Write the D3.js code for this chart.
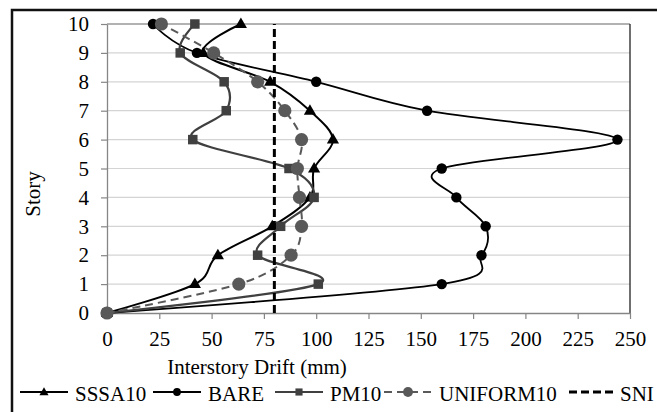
<!DOCTYPE html>
<html>
<head>
<meta charset="utf-8">
<script src="https://cdn.jsdelivr.net/npm/d3@7"></script>
</head>
<body style="margin:0">
<svg id="chart" width="657" height="412"></svg>
<script>
// ---- data ----
const stories   = [0, 1, 2, 3, 4, 5, 6, 7, 8, 9, 10];
const sssa10    = [0, 42, 53, 79, 97, 99, 108, 97, 78, 46, 64];
const bare      = [0, 160, 179, 181, 167, 160, 244, 153, 100, 43, 22];
const pm10      = [0, 101, 72, 83, 99, 87, 41, 57, 56, 35, 42];
const uniform10 = [0, 63, 88, 93, 92, 91, 93, 85, 72, 51, 26];
const sniStories = [0, 10];
const sniDrift   = [80, 80];
const xTicks = [0, 25, 50, 75, 100, 125, 150, 175, 200, 225, 250];
const yTicks = [0, 1, 2, 3, 4, 5, 6, 7, 8, 9, 10];
const seriesNames = ["SSSA10", "BARE", "PM10", "UNIFORM10", "SNI"];
const xTitle = "Interstory Drift (mm)";
const yTitle = "Story";

// ---- layout ----
const FONT = "Liberation Serif";
const FS = 21;
const svg = d3.select("#chart");
const x = d3.scaleLinear().domain([0, 250]).range([107, 630]);
const y = d3.scaleLinear().domain([0, 10]).range([313, 24]);
const curve = d3.curveCardinal.tension(0);

// background + outer chart border
svg.append("rect").attr("x", 0).attr("y", 0).attr("width", 657).attr("height", 412).attr("fill", "#fff");
svg.append("rect").attr("x", 12).attr("y", 10).attr("width", 720).attr("height", 480)
  .attr("fill", "none").attr("stroke", "#111").attr("stroke-width", 2.5);

// gridlines
svg.append("g").selectAll("line").data(yTicks.filter(d => d > 0 && d < 10)).join("line")
  .attr("x1", x(0)).attr("x2", x(250)).attr("y1", d => y(d)).attr("y2", d => y(d))
  .attr("stroke", "#d4d4d4").attr("stroke-width", 1.2);

// plot border top/right
svg.append("line").attr("x1", x(0)).attr("x2", x(250)).attr("y1", y(10)).attr("y2", y(10))
  .attr("stroke", "#666").attr("stroke-width", 1.2);
svg.append("line").attr("x1", x(250)).attr("x2", x(250)).attr("y1", y(10)).attr("y2", y(0))
  .attr("stroke", "#222").attr("stroke-width", 1.3);

// axes
const xAxis = svg.append("g").attr("transform", `translate(0,${y(0)})`)
  .call(d3.axisBottom(x).tickValues(xTicks).tickFormat(d3.format("d")).tickSize(6).tickSizeOuter(0).tickPadding(12));
const yAxis = svg.append("g").attr("transform", `translate(${x(0)},0)`)
  .call(d3.axisLeft(y).tickValues(yTicks).tickFormat(d3.format("d")).tickSize(6).tickSizeOuter(0).tickPadding(12));
[xAxis, yAxis].forEach(g => {
  g.attr("font-family", FONT).attr("font-size", FS);
  g.select(".domain").attr("stroke", "#868686").attr("stroke-width", 1.3);
  g.selectAll(".tick line").attr("stroke", "#868686").attr("stroke-width", 1.2);
  g.selectAll(".tick text").attr("font-family", FONT).attr("font-size", FS).attr("fill", "#000");
});

// axis titles
svg.append("text").attr("x", 257).attr("y", 374).attr("text-anchor", "middle")
  .attr("font-family", FONT).attr("font-size", FS).attr("fill", "#000").text(xTitle);
svg.append("text").attr("transform", "translate(40,194) rotate(-90)").attr("text-anchor", "middle")
  .attr("font-family", FONT).attr("font-size", FS).attr("fill", "#000").text(yTitle);

// series
function pts(vals) { return vals.map((v, i) => [x(v), y(stories[i])]); }
const line = d3.line().curve(curve);

const series = [
  { vals: sssa10,    color: "#000",    width: 2,   dash: null,  marker: "tri" },
  { vals: bare,      color: "#000",    width: 1.8, dash: null,  marker: "circ" },
  { vals: pm10,      color: "#404040", width: 2.2, dash: null,  marker: "sq" },
  { vals: uniform10, color: "#595959", width: 2,   dash: "8,5", marker: "bigcirc" }
];

function drawMarker(g, type, cx, cy, color, scale) {
  if (type === "tri") {
    g.append("path").attr("d", d3.symbol(d3.symbolTriangle, 64 * scale * scale)())
      .attr("transform", `translate(${cx},${cy + 0.5})`).attr("fill", color);
  } else if (type === "circ") {
    g.append("circle").attr("cx", cx).attr("cy", cy).attr("r", 5.2 * scale).attr("fill", color);
  } else if (type === "sq") {
    const s = 9.5 * scale;
    g.append("rect").attr("x", cx - s / 2).attr("y", cy - s / 2).attr("width", s).attr("height", s).attr("fill", color);
  } else if (type === "bigcirc") {
    g.append("circle").attr("cx", cx).attr("cy", cy).attr("r", 6.6 * scale).attr("fill", color);
  }
}

series.forEach(s => {
  const g = svg.append("g");
  g.append("path").attr("d", line(pts(s.vals))).attr("fill", "none")
    .attr("stroke", s.color).attr("stroke-width", s.width)
    .attr("stroke-dasharray", s.dash);
  pts(s.vals).forEach(p => drawMarker(g, s.marker, p[0], p[1], s.color, 1));
});

// SNI vertical dashed
svg.append("path").attr("d", d3.line()(sniDrift.map((v, i) => [x(v), y(sniStories[i])])))
  .attr("fill", "none").attr("stroke", "#000").attr("stroke-width", 3).attr("stroke-dasharray", "8,4");

// legend
const legY = 392;
const legSymX = [20, 153, 275, 384, 569];
const legTextX = [75, 208, 330, 439, 620];
const legStyles = [
  { color: "#000", width: 2, dash: null, marker: "tri" },
  { color: "#000", width: 1.8, dash: null, marker: "circ" },
  { color: "#404040", width: 2.2, dash: null, marker: "sq" },
  { color: "#595959", width: 2.2, dash: "8,5", marker: "bigcirc" },
  { color: "#000", width: 3, dash: "8,4", marker: null }
];
seriesNames.forEach((name, i) => {
  const g = svg.append("g");
  const st = legStyles[i];
  g.append("line").attr("x1", legSymX[i]).attr("x2", legSymX[i] + 48).attr("y1", legY).attr("y2", legY)
    .attr("stroke", st.color).attr("stroke-width", st.width).attr("stroke-dasharray", st.dash);
  if (st.marker) drawMarker(g, st.marker, legSymX[i] + 24, legY, st.color, 0.75);
  g.append("text").attr("x", legTextX[i]).attr("y", 401)
    .attr("font-family", FONT).attr("font-size", FS).attr("fill", "#000").text(name);
});
</script>
</body>
</html>
